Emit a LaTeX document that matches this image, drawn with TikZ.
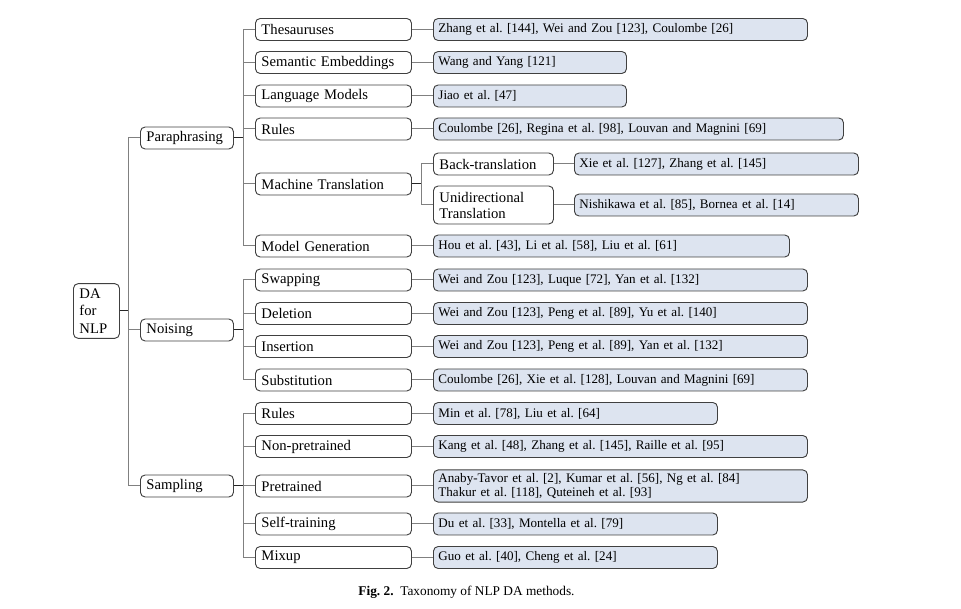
\documentclass[tikz,border=0pt]{standalone}
\usepackage{fontspec}
\setmainfont{Liberation Serif}
\usepackage{xcolor}
\usepackage{tikz}
\usetikzlibrary{
    positioning,
    calc
}
\frenchspacing
\definecolor{refblue}{RGB}{221,228,240}
\tikzset{
    catbox/.style={draw=black!75, line width=0.7pt, rounded corners=3.5pt, fill=white,
        anchor=west, align=left, inner xsep=4.5pt, inner ysep=2.5pt,
        minimum height=16.5pt, font=\fontsize{11}{12.5}\selectfont},
    refbox/.style={catbox, fill=refblue, inner xsep=3.75pt,
        font=\fontsize{9.8}{10.7}\selectfont},
    stub/.style={line width=0.75pt, black!85},
    link/.style={line width=0.75pt, black!50}
}

\begin{document}
\begin{tikzpicture}[x=0.75pt, y=-0.75pt]
            \useasboundingbox (0,0) rectangle (961,609);

            % root and first level
            \node[catbox, text width=25.5pt, minimum height=41pt, font=\fontsize{11}{13}\selectfont] (root) at (73,311) {DA\\for\\NLP};
            \node[catbox, text width=60.75pt] (para) at (140,138) {Paraphrasing};
            \node[catbox, text width=60.75pt] (nois) at (140,330) {Noising};
            \node[catbox, text width=60.75pt] (samp) at (140,486) {Sampling};

            % second level with their references
            \foreach \n/\y/\lab/\w/\refs in {
                thes/29.5/Thesauruses/807/{Zhang et al. [144], Wei and Zou [123], Coulombe [26]},
                sem/62.5/Semantic Embeddings/626/{Wang and Yang [121]},
                lm/96/Language Models/626/{Jiao et al. [47]},
                rul/129/Rules/843/{Coulombe [26], Regina et al. [98], Louvan and Magnini [69]},
                gen/246/Model Generation/789/{Hou et al. [43], Li et al. [58], Liu et al. [61]},
                swap/280/Swapping/807/{Wei and Zou [123], Luque [72], Yan et al. [132]},
                del/313.5/Deletion/807/{Wei and Zou [123], Peng et al. [89], Yu et al. [140]},
                ins/346.5/Insertion/807/{Wei and Zou [123], Peng et al. [89], Yan et al. [132]},
                sub/380/Substitution/807/{Coulombe [26], Xie et al. [128], Louvan and Magnini [69]},
                srul/413.5/Rules/717/{Min et al. [78], Liu et al. [64]},
                npre/446.5/Non-pretrained/807/{Kang et al. [48], Zhang et al. [145], Raille et al. [95]},
                pre/486/Pretrained/807/{Anaby-Tavor et al. [2], Kumar et al. [56], Ng et al. [84]\\Thakur et al. [118], Quteineh et al. [93]},
                self/524/Self-training/717/{Du et al. [33], Montella et al. [79]},
                mix/557.5/Mixup/717/{Guo et al. [40], Cheng et al. [24]}} {
                \node[catbox, text width=108pt] (\n) at (255,\y) {\lab};
                \node[refbox, text width={(\w-433)*0.75pt-7.5pt}] (r\n) at (433,\y) {\refs};
                \draw[link] (\n) -- (r\n);
            }

            % machine translation splits once more
            \node[catbox, text width=108pt] (mt) at (255,184) {Machine Translation};
            \node[catbox, text width=81pt] (bt) at (433,164) {Back-translation};
            \node[catbox, text width=81pt, minimum height=28.5pt, font=\fontsize{11}{12}\selectfont] (ut) at (433,205) {Unidirectional\\Translation};
            \node[refbox, text width=205.5pt] (rbt) at (574,164) {Xie et al. [127], Zhang et al. [145]};
            \node[refbox, text width=205.5pt] (rut) at (574,205) {Nishikawa et al. [85], Bornea et al. [14]};
            \draw[link] (bt) -- (rbt) (ut) -- (rut);

            % tree connectors
            \draw[stub] (root.east) -- ++(9,0) coordinate (rootT);
            \foreach \c in {para,nois,samp} \draw[link] (rootT) |- (\c.west);
            \draw[stub] (para.east) -- ++(9.5,0) coordinate (paraT);
            \foreach \c in {thes,sem,lm,rul,mt,gen} \draw[link] (paraT) |- (\c.west);
            \draw[stub] (nois.east) -- ++(9.5,0) coordinate (noisT);
            \foreach \c in {swap,del,ins,sub} \draw[link] (noisT) |- (\c.west);
            \draw[stub] (samp.east) -- ++(9.5,0) coordinate (sampT);
            \foreach \c in {srul,npre,pre,self,mix} \draw[link] (sampT) |- (\c.west);
            \draw[stub] (mt.east) -- ++(10,0) coordinate (mtT);
            \foreach \c in {bt,ut} \draw[link] (mtT) |- (\c.west);

            \node[font=\fontsize{10}{12}\selectfont] (cap) at (466.5,592) {\textbf{Fig. 2.}\enspace Taxonomy of NLP DA methods.};
\end{tikzpicture}
\end{document}
